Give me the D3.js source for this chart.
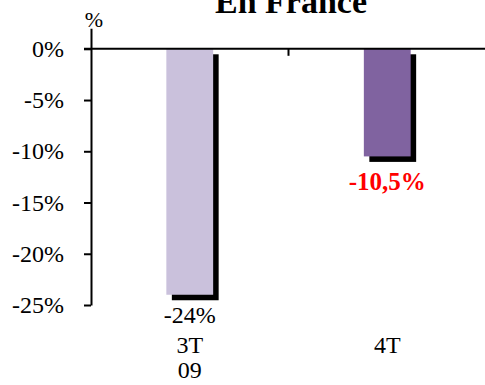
<!DOCTYPE html>
<html><head><meta charset="utf-8">
<script src="https://cdn.jsdelivr.net/npm/d3@7"></script>
<style>body{margin:0;background:#fff}svg{display:block}</style>
</head><body>
<script>
const categories = [["3T", "09"], ["4T"]];
const values = [-24, -10.5];
const valueLabels = ["-24%", "-10,5%"];
const barColors = ["#CAC1DC", "#8063A0"];
const yTicks = [0, -5, -10, -15, -20, -25];
const title = "En France";
const unitLabel = "%";

const W = 485, H = 385;
const svg = d3.select("body").append("svg").attr("width", W).attr("height", H);
const font = "'Liberation Serif','Times New Roman',serif";

const x = d3.scaleBand().domain(d3.range(values.length)).range([91, 486]).padding(0);
const y = d3.scaleLinear().domain([-25, 2]).range([305, 28.3]);
const bw = x.bandwidth() * 0.237;
const off = 5.5;

// title
svg.append("text").attr("x", 291).attr("y", 13).attr("text-anchor", "middle")
  .attr("font-family", font).attr("font-weight", "bold").attr("font-size", 34).text(title);
// unit label
svg.append("text").attr("x", 94).attr("y", 27).attr("text-anchor", "middle")
  .attr("font-family", font).attr("font-size", 22).text(unitLabel);

// shadows
svg.selectAll("rect.sh").data(values).enter().append("rect").attr("class", "sh")
  .attr("x", (d, i) => x(i) + x.bandwidth() / 2 - bw / 2 + off)
  .attr("y", y(0) + off)
  .attr("width", bw).attr("height", d => y(d) - y(0))
  .attr("fill", "#000");
// bars
svg.selectAll("rect.bar").data(values).enter().append("rect").attr("class", "bar")
  .attr("x", (d, i) => x(i) + x.bandwidth() / 2 - bw / 2)
  .attr("y", y(0))
  .attr("width", bw).attr("height", d => y(d) - y(0))
  .attr("fill", (d, i) => barColors[i]);

// y axis
const ya = svg.append("g").attr("transform", "translate(91,0)")
  .call(d3.axisLeft(y).tickValues(yTicks).tickSize(7).tickSizeOuter(0).tickPadding(20).tickFormat(d => d + "%"));
ya.select(".domain").attr("stroke", "#000").attr("stroke-width", 2);
ya.selectAll(".tick line").attr("stroke", "#000").attr("stroke-width", 2);
ya.selectAll(".tick text").attr("font-family", font).attr("font-size", 24).attr("fill", "#000");

// x axis line at zero
svg.append("line").attr("x1", 84).attr("x2", 485).attr("y1", y(0)).attr("y2", y(0))
  .attr("stroke", "#000").attr("stroke-width", 2);
// middle tick
for (let i = 1; i < values.length; i++) {
  svg.append("line").attr("x1", x(i)).attr("x2", x(i)).attr("y1", y(0)).attr("y2", y(0) + 7)
    .attr("stroke", "#000").attr("stroke-width", 2);
}

// value labels
svg.append("text").attr("x", x(0) + x.bandwidth() / 2).attr("y", 323).attr("text-anchor", "middle")
  .attr("font-family", font).attr("font-size", 24).attr("fill", "#000").text(valueLabels[0]);
svg.append("text").attr("x", x(1) + x.bandwidth() / 2).attr("y", 190).attr("text-anchor", "middle")
  .attr("font-family", font).attr("font-weight", "bold").attr("font-size", 25).attr("fill", "#FF0000").text(valueLabels[1]);

// category labels
categories.forEach((lines, i) => {
  lines.forEach((t, j) => {
    svg.append("text").attr("x", x(i) + x.bandwidth() / 2).attr("y", 353 + j * 25)
      .attr("text-anchor", "middle").attr("font-family", font).attr("font-size", 24).attr("fill", "#000").text(t);
  });
});
</script>
</body></html>
